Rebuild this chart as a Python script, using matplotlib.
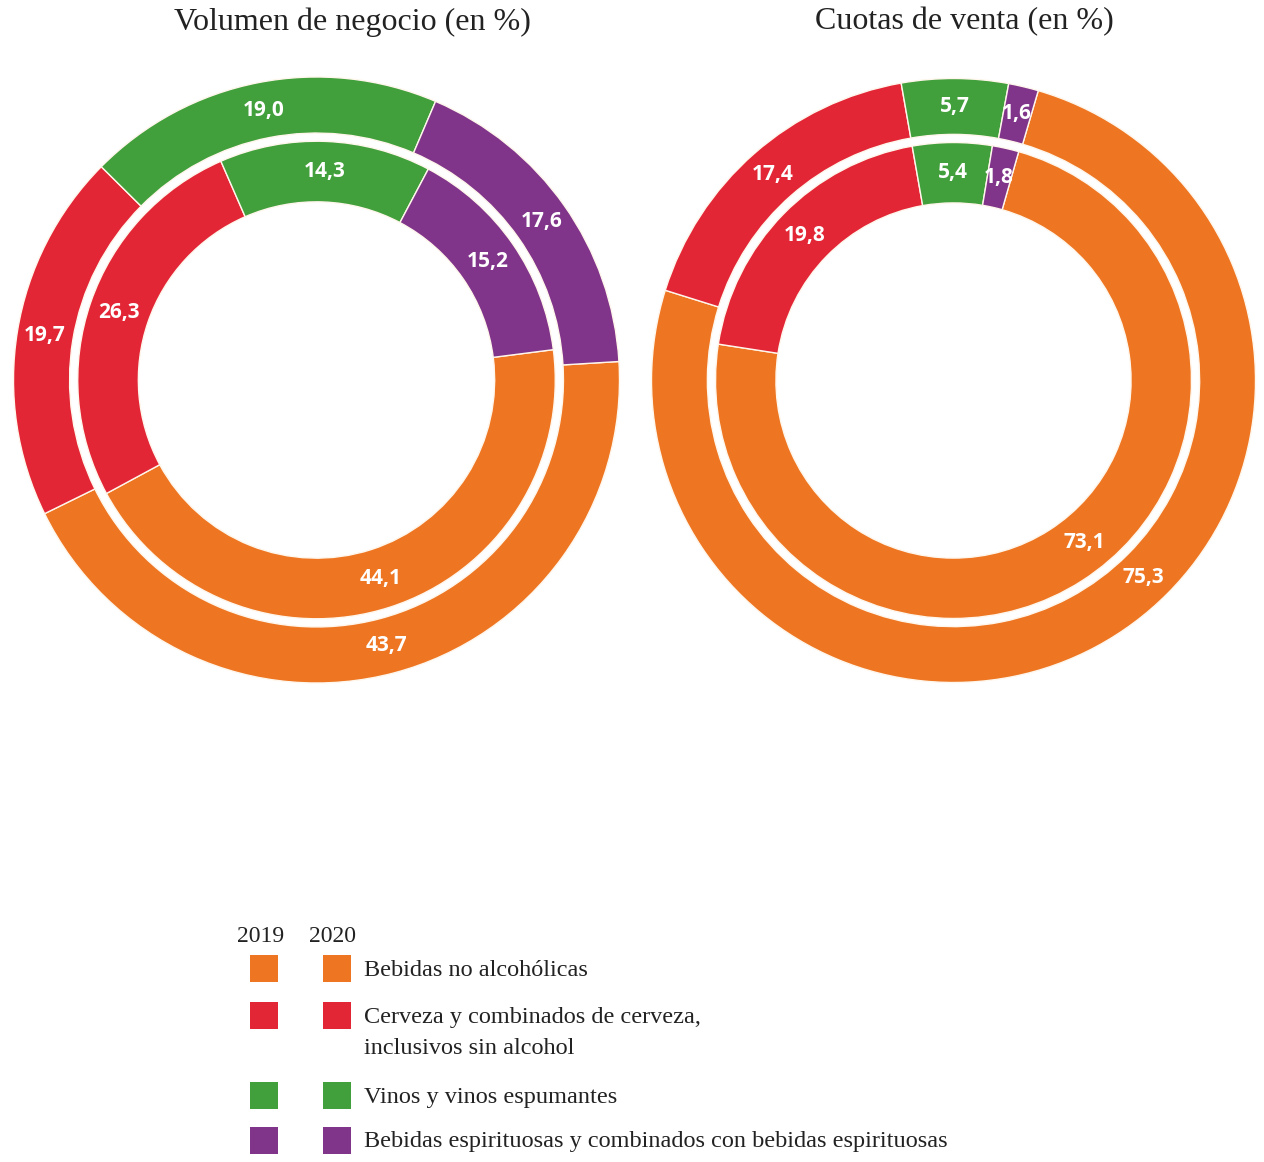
import matplotlib
matplotlib.use("Agg")
import matplotlib.pyplot as plt
from matplotlib.patches import Rectangle
import numpy as np

# ---------------- data ----------------
categories = [
    "Bebidas no alcohólicas",
    "Cerveza y combinados de cerveza,\ninclusivos sin alcohol",
    "Vinos y vinos espumantes",
    "Bebidas espirituosas y combinados con bebidas espirituosas",
]
years = ["2019", "2020"]
titles = ["Volumen de negocio (en %)", "Cuotas de venta (en %)"]

volumen_2019 = [44.1, 26.3, 14.3, 15.2]   # inner ring
volumen_2020 = [43.7, 19.7, 19.0, 17.6]   # outer ring
cuotas_2019 = [73.1, 19.8, 5.4, 1.8]      # inner ring
cuotas_2020 = [75.3, 17.4, 5.7, 1.6]      # outer ring

colors = ["#EE7622", "#E32636", "#41A03C", "#80358A"]

# ---------------- layout ----------------
W, H = 1264, 1162
fig = plt.figure(figsize=(W / 100, H / 100), dpi=100)

serif = ["Liberation Serif", "DejaVu Serif"]
lab_font = ["Open Sans", "DejaVu Sans"]
txt_col = "#222222"


def px_axes(cx, cy, r):
    return fig.add_axes([(cx - r) / W, (H - cy - r) / H, 2 * r / W, 2 * r / H])


def fmt(v):
    return f"{v:.1f}".replace(".", ",")


def draw_rings(ax, inner_vals, outer_vals, start_inner, start_outer, shifts):
    rings = [
        (outer_vals, 1.0, 0.185, start_outer, "outer"),
        (inner_vals, 0.788, 0.200, start_inner, "inner"),
    ]
    for vals, radius, width, start, key in rings:
        wedges, _ = ax.pie(vals, colors=colors, radius=radius, startangle=start,
                           counterclock=False, normalize=True,
                           wedgeprops=dict(width=width, edgecolor="#FFF6EC",
                                           linewidth=1.0))
        rmid = radius - width / 2
        for i, (w, v) in enumerate(zip(wedges, vals)):
            ang = np.deg2rad((w.theta1 + w.theta2) / 2 + shifts.get((key, i), 0.0))
            ax.text(rmid * np.cos(ang), rmid * np.sin(ang), fmt(v),
                    ha="center", va="center", color="white", fontsize=15,
                    fontweight="bold", family=lab_font)
    ax.set_xlim(-1, 1)
    ax.set_ylim(-1, 1)
    ax.set_aspect("equal")
    ax.axis("off")


ax1 = px_axes(316.5, 380, 303)
draw_rings(ax1, volumen_2019, volumen_2020, 7.3, 3.5, {})

ax2 = px_axes(953.5, 380.5, 302)
draw_rings(ax2, cuotas_2019, cuotas_2020, 74.1, 73.7,
           {("outer", 0): 15.8, ("inner", 0): 6.3})

# ---------------- overlay: titles and legend ----------------
ov = fig.add_axes([0, 0, 1, 1], zorder=5)
ov.set_xlim(0, W)
ov.set_ylim(H, 0)
ov.axis("off")

ov.text(352, 22, titles[0], ha="center", va="center", fontsize=23,
        family=serif, color=txt_col)
ov.text(964, 22, titles[1], ha="center", va="center", fontsize=23,
        family=serif, color=txt_col)

ov.text(261, 937, years[0], ha="center", va="center", fontsize=17,
        family=serif, color=txt_col)
ov.text(333, 937, years[1], ha="center", va="center", fontsize=17,
        family=serif, color=txt_col)

row_y = [968, 1015, 1095, 1140]
sq = 27
for i, (cat, col) in enumerate(zip(categories, colors)):
    y = row_y[i]
    for x0 in (250, 323):
        ov.add_patch(Rectangle((x0, y - sq / 2), sq + 1, sq, facecolor=col,
                               edgecolor="none"))
    for j, line in enumerate(cat.split("\n")):
        ov.text(364, y + 2 + 31 * j, line, ha="left", va="center",
                fontsize=17.5, family=serif, color=txt_col)

fig.savefig("out.png", dpi=100, facecolor="white")
